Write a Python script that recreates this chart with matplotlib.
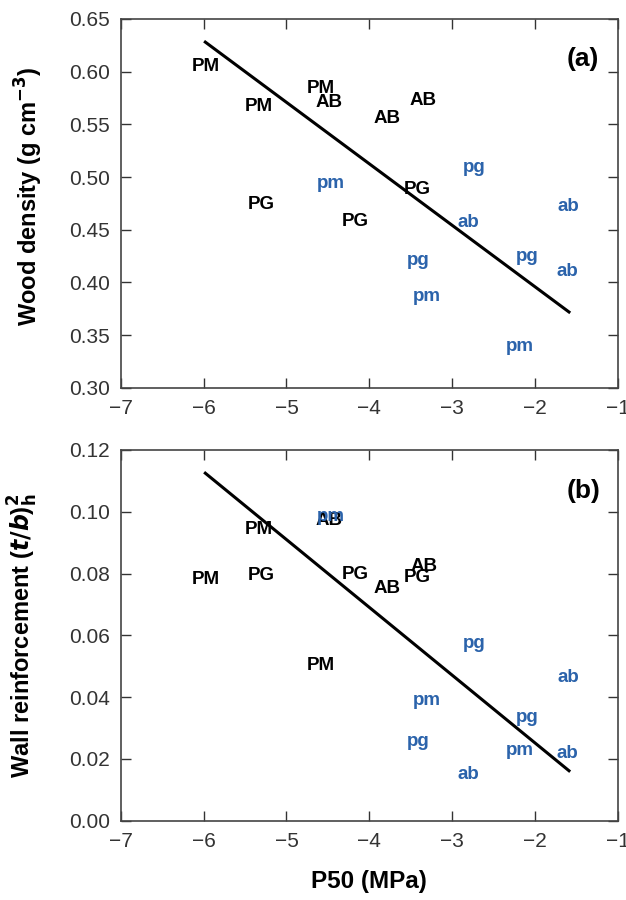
import matplotlib.pyplot as plt

plt.rcParams['font.family'] = ['Liberation Sans', 'DejaVu Sans']
plt.rcParams['axes.unicode_minus'] = True

BLUE = '#2b63ab'

# panel (a): wood density vs P50
a_labels = ['PM', 'PM', 'PM', 'AB', 'AB', 'AB', 'PG', 'PG', 'PG',
            'pm', 'pm', 'pm', 'pg', 'pg', 'pg', 'ab', 'ab', 'ab']
a_x = [-5.97, -5.33, -4.59, -4.49, -3.79, -3.35, -3.42, -5.30, -4.17,
       -4.46, -3.31, -2.18, -2.74, -3.41, -2.09, -2.80, -1.60, -1.61]
a_y = [0.605, 0.567, 0.584, 0.571, 0.556, 0.573, 0.488, 0.474, 0.458,
       0.494, 0.387, 0.339, 0.509, 0.421, 0.425, 0.457, 0.472, 0.410]
a_fit_x = [-5.98, -1.59]
a_fit_y = [0.628, 0.372]

# panel (b): wall reinforcement vs P50
b_labels = ['PM', 'PM', 'PM', 'AB', 'AB', 'AB', 'PG', 'PG', 'PG',
            'pm', 'pm', 'pm', 'pg', 'pg', 'pg', 'ab', 'ab', 'ab']
b_x = [-5.97, -5.33, -4.59, -4.49, -3.79, -3.34, -5.30, -4.17, -3.42,
       -4.46, -3.31, -2.18, -2.74, -2.09, -3.41, -1.60, -1.61, -2.80]
b_y = [0.0781, 0.0943, 0.0501, 0.0973, 0.0752, 0.0822, 0.0795, 0.0798, 0.0787,
       0.0986, 0.0388, 0.0226, 0.0574, 0.0334, 0.0258, 0.0463, 0.0218, 0.0150]
b_fit_x = [-5.98, -1.59]
b_fit_y = [0.1125, 0.0162]

x_ticks = [-7, -6, -5, -4, -3, -2, -1]
a_yticks = [0.30, 0.35, 0.40, 0.45, 0.50, 0.55, 0.60, 0.65]
b_yticks = [0.00, 0.02, 0.04, 0.06, 0.08, 0.10, 0.12]


def draw_panel(ax, labels, xs, ys, fit_x, fit_y, yticks, fmt, tag):
    ax.plot(fit_x, fit_y, color='black', lw=2.2, zorder=1)
    for lab, x, y in zip(labels, xs, ys):
        col = 'black' if lab.isupper() else BLUE
        ax.text(x, y, lab, ha='center', va='center', fontsize=13.5,
                fontweight='bold', color=col, zorder=2)
    ax.set_xlim(-7, -1)
    ax.set_ylim(yticks[0], yticks[-1])
    ax.set_xticks(x_ticks)
    ax.set_yticks(yticks)
    ax.set_yticklabels([fmt % v for v in yticks])
    ax.tick_params(direction='in', top=True, right=True, length=7,
                   width=1.0, labelsize=15, colors='#333333',
                   labelcolor='#333333', pad=8)
    for s in ax.spines.values():
        s.set_linewidth(1.2)
        s.set_color('#444444')
    ax.text(0.93, 0.89, tag, transform=ax.transAxes, ha='center',
            va='center', fontsize=19, fontweight='bold')


fig = plt.figure(figsize=(6.26, 9.0), dpi=100)
ax1 = fig.add_axes([0.193, 0.569, 0.794, 0.410])
ax2 = fig.add_axes([0.193, 0.088, 0.794, 0.412])

draw_panel(ax1, a_labels, a_x, a_y, a_fit_x, a_fit_y, a_yticks, '%.2f', '(a)')
draw_panel(ax2, b_labels, b_x, b_y, b_fit_x, b_fit_y, b_yticks, '%.2f', '(b)')

ax1.set_ylabel(r'Wood density (g cm$^{\mathbf{-3}}$)', fontsize=17,
               fontweight='bold')
ax1.yaxis.set_label_coords(-0.153, 0.52)
ax2.set_ylabel(r'Wall reinforcement ($\boldsymbol{t/b}$)$_{\mathbf{h}}^{\mathbf{2}}$',
               fontsize=17, fontweight='bold')
ax2.yaxis.set_label_coords(-0.163, 0.5)
ax2.set_xlabel('P50 (MPa)', fontsize=17.5, fontweight='bold', labelpad=14)

fig.savefig('out.png', dpi=100)
